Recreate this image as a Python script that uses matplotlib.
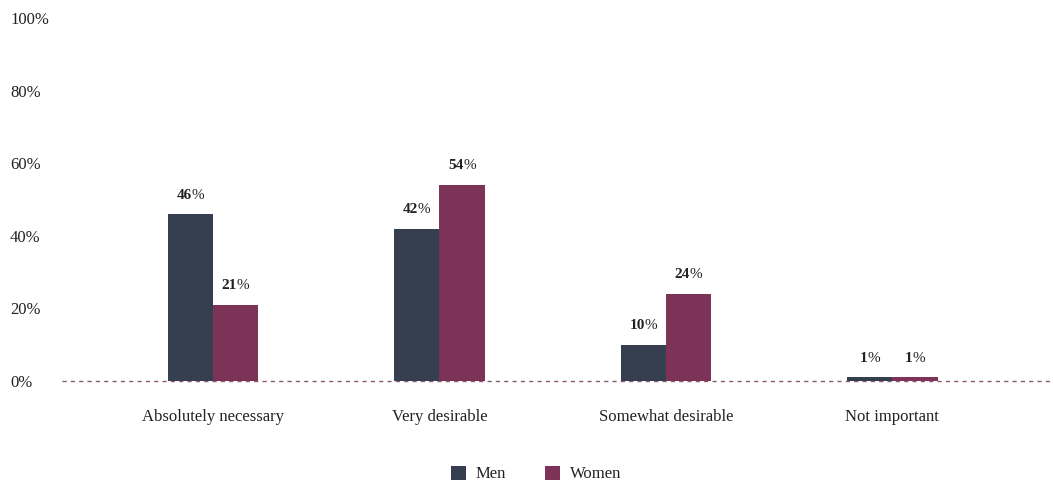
import matplotlib
matplotlib.use("Agg")
import matplotlib.pyplot as plt
from matplotlib.transforms import offset_copy
import numpy as np

categories = ["Absolutely necessary", "Very desirable", "Somewhat desirable", "Not important"]
men = [46, 42, 10, 1]
women = [21, 54, 24, 1]
yticks = [0, 20, 40, 60, 80, 100]
series_names = ["Men", "Women"]

MEN_C = "#353f4f"
WOMEN_C = "#7d3358"
TXT = "#222222"
FONT = "Liberation Serif"
plt.rcParams["font.family"] = [FONT, "DejaVu Serif"]

W, H = 1053, 482
fig = plt.figure(figsize=(W / 100, H / 100), dpi=100)
ax = fig.add_axes([62 / W, 1 - 381 / H, 1 - 62 / W, (381 - 18) / H])

x = np.arange(len(categories))
bw = 0.2
b1 = ax.bar(x - bw / 2, men, bw, color=MEN_C, label=series_names[0], zorder=2)
b2 = ax.bar(x + bw / 2, women, bw, color=WOMEN_C, label=series_names[1], zorder=2)

ax.set_xlim(-0.667, 3.71)
ax.set_ylim(0, 100)
ax.axhline(0, color="#8a5a6e", lw=1, ls=(0, (3, 3)), zorder=1, clip_on=False)
for s in ax.spines.values():
    s.set_visible(False)
ax.set_yticks(yticks)
ax.set_yticklabels([f"{v}%" for v in yticks])
ax.tick_params(axis="y", length=0, pad=52 * 0.72, labelsize=12, labelcolor=TXT)
for lab in ax.get_yticklabels():
    lab.set_ha("left")
ax.set_xticks(x)
ax.set_xticklabels(categories)
ax.tick_params(axis="x", length=0, pad=20, labelsize=12, labelcolor=TXT)

fig.canvas.draw()
renderer = fig.canvas.get_renderer()

FS = 11

def value_label(xc, val):
    num = ax.text(0, 0, f"{val}", fontsize=FS, fontweight="bold", color=TXT)
    pct = ax.text(0, 0, "%", fontsize=FS, color=TXT)
    wn = num.get_window_extent(renderer).width - 0.3
    wp = pct.get_window_extent(renderer).width
    tot = wn + wp
    num.remove(); pct.remove()
    base = ax.transData
    t1 = offset_copy(base, fig=fig, x=-tot / 2, y=19, units="dots")
    t2 = offset_copy(base, fig=fig, x=-tot / 2 + wn, y=19, units="dots")
    ax.text(xc, val, f"{val}", fontsize=FS, fontweight="bold", color=TXT,
            transform=t1, ha="left", va="center")
    ax.text(xc, val, "%", fontsize=FS, color=TXT,
            transform=t2, ha="left", va="center")

for i in range(len(categories)):
    value_label(x[i] - bw / 2, men[i])
    value_label(x[i] + bw / 2, women[i])

leg = fig.legend(handles=[b1, b2], labels=series_names, loc="center",
                 bbox_to_anchor=(536 / W, 1 - 474 / H), ncol=2, frameon=False,
                 fontsize=12, handlelength=0.9, handleheight=0.9,
                 columnspacing=2.3, handletextpad=0.6)
for t in leg.get_texts():
    t.set_color(TXT)

fig.savefig("out.png", dpi=100)
